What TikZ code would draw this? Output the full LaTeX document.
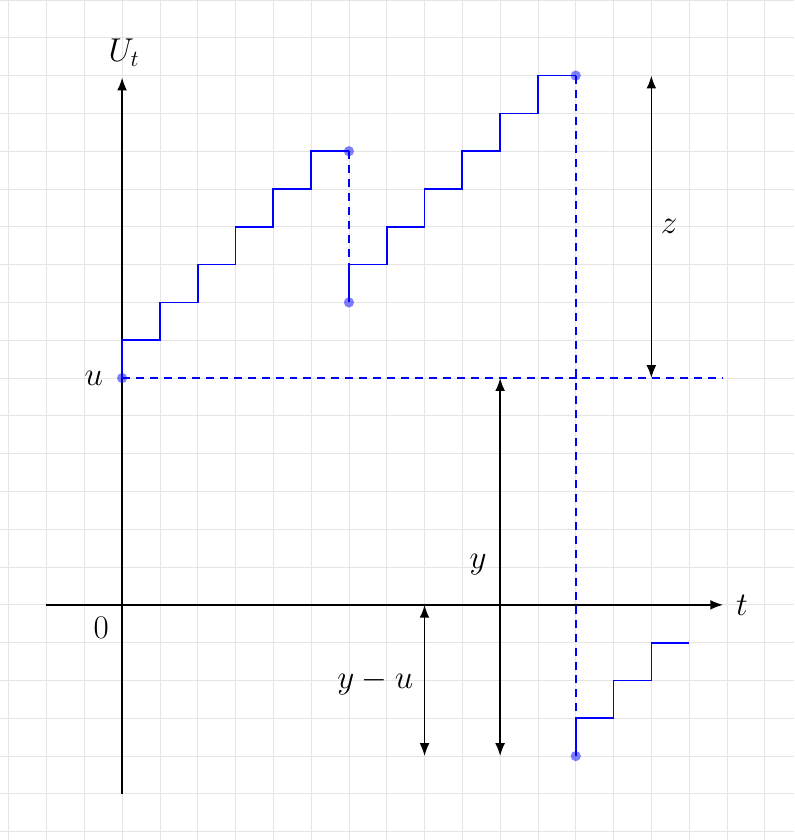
\documentclass[tikz,border=0pt]{standalone}
\usetikzlibrary{arrows.meta}
\begin{document}
\begin{tikzpicture}[x=1cm,y=1cm,
  lbl/.style={font=\fontsize{23.5}{28}\selectfont},
  axisline/.style={line width=1.3pt,-{Latex[length=3.4mm,width=2.6mm]}},
  dimline/.style={line width=1.3pt,{Latex[length=3.4mm,width=2.6mm]}-{Latex[length=3.4mm,width=2.6mm]}},
  stepline/.style={draw=blue,line width=1.3pt},
  dashline/.style={draw=blue,line width=1.3pt,dash pattern=on 6pt off 4.5pt},
  dot/.style={circle,fill=blue,fill opacity=0.5,inner sep=0pt,minimum size=2.7mm}]
\useasboundingbox (-3.23,-6.22) rectangle (17.78,16.0);
\draw[black!10,line width=0.6pt] (-3.23,-6.22) grid (17.78,16.0);
% axes
\coordinate (xl) at (-2,0);
\coordinate (xr) at (15.9,0);
\coordinate (yb) at (0,-5);
\coordinate (yt) at (0,13.95);
\draw[axisline] (xl) -- (xr);
\draw[axisline] (yb) -- (yt);
\node[lbl] (Ut) at (0.05,14.6) {$U_t$};
\node[lbl] (tl) at (16.4,0) {$t$};
\node[lbl] (zero) at (-0.55,-0.6) {$0$};
\node[lbl] (ul) at (-0.75,6) {$u$};
% dots
\node[dot] (d0) at (0,6) {};
\node[dot] (d1) at (6,12) {};
\node[dot] (d2) at (6,8) {};
\node[dot] (d3) at (12,14) {};
\node[dot] (d4) at (12,-4) {};
% step paths
\draw[stepline] (d0.center) -- (0,7) -- (1,7) -- (1,8) -- (2,8) -- (2,9) -- (3,9) -- (3,10) -- (4,10) -- (4,11) -- (5,11) -- (5,12) -- (d1.center);
\draw[dashline] (d1.center) -- (6,9);
\draw[stepline] (d2.center) -- (6,9) -- (7,9) -- (7,10) -- (8,10) -- (8,11) -- (9,11) -- (9,12) -- (10,12) -- (10,13) -- (11,13) -- (11,14) -- (d3.center);
\draw[dashline] (d3.center) -- (12,-3);
\draw[stepline] (d4.center) -- (12,-3) -- (13,-3) -- (13,-2) -- (14,-2) -- (14,-1) -- (15,-1);
\coordinate (ue) at (15.9,6);
\draw[dashline] (d0.center) -- (ue);
% dimension arrows
\coordinate (za) at (14,14);
\coordinate (zb) at (14,6);
\draw[dimline] (za) -- (zb);
\node[lbl] (zl) at (14.47,10) {$z$};
\coordinate (ya) at (10,6);
\coordinate (yb2) at (10,-4);
\draw[dimline] (ya) -- (yb2);
\node[lbl] (yl) at (9.42,1.06) {$y$};
\coordinate (ma) at (8,0);
\coordinate (mb) at (8,-4);
\draw[dimline] (ma) -- (mb);
\node[lbl] (yul) at (6.7,-2.04) {$y-u$};
\end{tikzpicture}
\end{document}
